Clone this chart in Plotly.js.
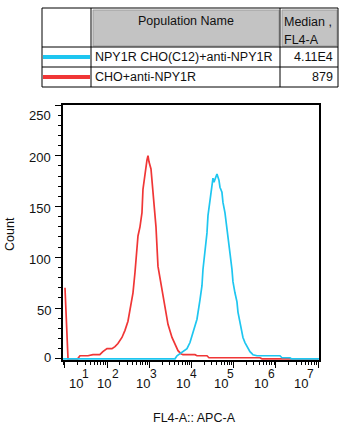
<!DOCTYPE html>
<html>
<head>
<meta charset="utf-8">
<script src="https://cdn.plot.ly/plotly-3.0.1.min.js"></script>
<style>html,body{margin:0;padding:0;background:#fff;}#chart{width:351px;height:431px;}</style>
</head>
<body>
<div id="chart"></div>
<script>
// ---- Data ----
const seriesNames = ["NPY1R CHO(C12)+anti-NPY1R", "CHO+anti-NPY1R"];
const seriesMedians = ["4.11E4", "879"];
const tableHeaders = ["Population Name", "Median ,", "FL4-A"];

// CHO+anti-NPY1R (red) : FL4-A intensity / count
const redX = [10, 10.6, 11.2, 11.8, 20, 22.6, 35, 46, 67, 79, 99, 130, 153, 180, 224, 264, 311, 367, 409, 456, 508, 537, 599, 668, 705, 787, 878, 927, 979, 1092, 1218, 1434, 1600, 1990, 2345, 2762, 3435, 4048, 4770, 5610, 6250, 12060, 13430, 23190, 25830, 418000, 466000, 10000000];
const redY = [70, 40, 16, 0, 0, 3, 3, 4, 4, 7, 10, 10, 12, 15, 21, 28, 37, 52, 65, 85, 108, 121, 130, 144, 167, 183, 196, 200, 194, 187, 167, 130, 91, 69, 49, 34, 21, 14, 8, 5, 4, 4, 3, 3, 1, 1, 0, 0];

// NPY1R CHO(C12)+anti-NPY1R (blue)
const blueX = [9, 4048, 4510, 6250, 7780, 9170, 10800, 13430, 15820, 17640, 18630, 20790, 23190, 24480, 27310, 30430, 32150, 33960, 37850, 40000, 44570, 47100, 52480, 55460, 61800, 69000, 72900, 81300, 90600, 95700, 106700, 119100, 125800, 140300, 156400, 165200, 184200, 205500, 217000, 242000, 270000, 285000, 355000, 1245000, 1387000, 2150000, 2300000, 11000000];
const blueY = [0, 0, 3, 7, 10, 16, 27, 39, 58, 72, 88, 104, 124, 141, 157, 169, 178, 174, 180, 182, 176, 169, 164, 154, 144, 130, 118, 104, 88, 76, 65, 56, 46, 36, 28, 21, 16, 12, 10, 7, 5, 4, 3, 3, 1, 1, 0, 0];

const xTickExps = [1, 2, 3, 4, 5, 6, 7];
const yTickVals = [0, 50, 100, 150, 200, 250];
const xTitle = "FL4-A:: APC-A";
const yTitle = "Count";

// ---- Layout geometry (pixels) ----
const W = 351, H = 431;
const L = 63, R = 319, T = 105, B = 360;
const xp = px => (px - L) / (R - L);
const yp = py => (B - py) / (B - T);

const colors = { blue: "#1ec6f0", red: "#f03636" };
const FONT = "Liberation Sans, Arial, Helvetica, sans-serif";

const traces = [
  { x: redX, y: redY, type: "scatter", mode: "lines", line: { color: colors.red, width: 1.7 }, hoverinfo: "skip" },
  { x: blueX, y: blueY, type: "scatter", mode: "lines", line: { color: colors.blue, width: 1.7 }, hoverinfo: "skip" }
];

const majorX = xTickExps.map(e => Math.pow(10, e));
const minorX = [];
for (let e = 0; e <= 7; e++) for (let m = 2; m <= 9; m++) minorX.push(m * Math.pow(10, e));

const shapes = [];
const ann = [];
// table
const tbl = { x0: 42, x1: 338, y0: 8, y1: 87, c1: 91, c2: 280, r1: 47, r2: 67 };
const line = (x0, y0, x1, y1, color, width) => shapes.push({ type: "line", xref: "paper", yref: "paper", x0: xp(x0), x1: xp(x1), y0: yp(y0), y1: yp(y1), line: { color: color, width: width } });
const rect = (x0, y0, x1, y1, fill, lc, lw) => shapes.push({ type: "rect", xref: "paper", yref: "paper", x0: xp(x0), x1: xp(x1), y0: yp(y0), y1: yp(y1), fillcolor: fill, line: { color: lc, width: lw } });

rect(93, 10, 279, 46, "#c3c3c3", "#9c9c9c", 1);
rect(282, 10, 337, 46, "#c3c3c3", "#9c9c9c", 1);
rect(tbl.x0, tbl.y0, tbl.x1, tbl.y1, "rgba(0,0,0,0)", "#000", 1);
line(tbl.c1, tbl.y0, tbl.c1, tbl.y1, "#000", 1);
line(tbl.c2, tbl.y0, tbl.c2, tbl.y1, "#000", 1);
line(tbl.x0, tbl.r1, tbl.x1, tbl.r1, "#000", 1);
line(tbl.x0, tbl.r2, tbl.x1, tbl.r2, "#000", 1);
line(43, 57, 90, 57, colors.blue, 4);
line(43, 77, 90, 77, colors.red, 4);

const txt = (text, x, y, xa, size, extra) => ann.push(Object.assign({ text: text, xref: "paper", yref: "paper", x: xp(x), y: yp(y), xanchor: xa, yanchor: "middle", showarrow: false, font: { family: FONT, size: size, color: "#111" } }, extra || {}));
txt(tableHeaders[0], 186, 21, "center", 12.5);
txt(tableHeaders[1], 282, 22, "left", 12.5);
txt(tableHeaders[2], 282, 40, "left", 12.5);
txt(seriesNames[0], 93, 57, "left", 12.5);
txt(seriesMedians[0], 335, 57, "right", 12.5);
txt(seriesNames[1], 93, 77, "left", 12.5);
txt(seriesMedians[1], 335, 77, "right", 12.5);

// x tick labels (base and exponent placed as in the reference)
const xBasePx = [76, 104, 143, 182.5, 220.5, 261, 301];
const xExpPx = [85.5, 115, 153.5, 193, 230.5, 271.5, 310.5];
xTickExps.forEach((e, i) => {
  txt("10", xBasePx[i], 383, "center", 13);
  txt(String(e), xExpPx[i], 374, "center", 12);
});
// y tick labels (as placed in the reference)
const yLabelPy = [357, 310, 259, 208, 157, 115];
yTickVals.forEach((v, i) => txt(String(v), 53, yLabelPy[i], "right", 13));
// axis titles
txt(xTitle, 194, 418, "center", 12.5);
txt(yTitle, 10, 234, "center", 12.5, { textangle: -90 });

const layout = {
  width: W, height: H,
  margin: { l: L, r: W - R, t: T, b: H - B, pad: 0 },
  paper_bgcolor: "#fff", plot_bgcolor: "#fff",
  showlegend: false,
  font: { family: FONT, size: 13, color: "#111" },
  xaxis: {
    type: "log", range: [0.953, 7.02], showgrid: false, zeroline: false,
    showline: true, linecolor: "#000", linewidth: 2, mirror: true,
    tickmode: "array", tickvals: majorX, showticklabels: false,
    ticks: "outside", ticklen: 6, tickwidth: 1, tickcolor: "#000",
    minor: { tickmode: "array", tickvals: minorX, ticks: "outside", ticklen: 3, tickwidth: 1, tickcolor: "#000", showgrid: false }
  },
  yaxis: {
    range: [-1.2, 250], showgrid: false, zeroline: false,
    showline: true, linecolor: "#000", linewidth: 2, mirror: true,
    tickmode: "array", tickvals: yTickVals, showticklabels: false,
    ticks: "outside", ticklen: 6, tickwidth: 1, tickcolor: "#000",
    minor: { dtick: 10, tick0: 0, ticks: "outside", ticklen: 3, tickwidth: 1, tickcolor: "#000", showgrid: false }
  },
  shapes: shapes,
  annotations: ann
};

Plotly.newPlot("chart", traces, layout, { staticPlot: true, displayModeBar: false });
</script>
</body>
</html>
